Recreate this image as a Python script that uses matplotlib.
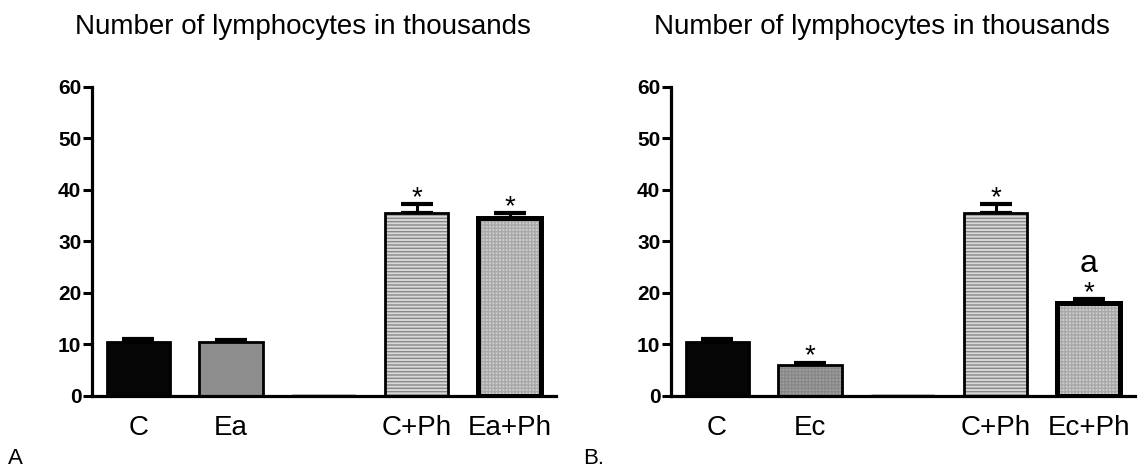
import matplotlib.pyplot as plt
import matplotlib.transforms as mtransforms
import numpy as np

plt.rcParams['font.family'] = ['Liberation Sans', 'DejaVu Sans']
plt.rcParams['hatch.linewidth'] = 1.0

# data
labels_a = ['C', 'Ea', '', 'C+Ph', 'Ea+Ph']
means_a = [10.5, 10.4, 0, 35.4, 34.5]
tops_a = [11.0, 10.9, 0, 37.2, 35.5]
stars_a = ['', '', '', '*', '*']

labels_b = ['C', 'Ec', '', 'C+Ph', 'Ec+Ph']
means_b = [10.5, 6.0, 0, 35.4, 18.0]
tops_b = [11.0, 6.4, 0, 37.2, 18.8]
stars_b = ['', '*', '', '*', '*']
extra_b = ['', '', '', '', 'a']

yticks = [0, 10, 20, 30, 40, 50, 60]
title = 'Number of lymphocytes in thousands'

# styles per bar (fill, hatch, hatch colour, edge width)
styles = [
    ('#050505', None, None, 2.0),
    ('#8e8e8e', None, None, 2.0),
    ('white', None, None, 2.5),
    ('#d8d8d8', '-----', '#888888', 2.0),
    ('#cfcfcf', '+++++', '#a8a8a8', 3.6),
]
styles_b = list(styles)
styles_b[1] = ('#a0a0a0', '+++++', '#888888', 2.0)


def draw(ax, fig, labels, means, tops, stars, stys, extra=None):
    x = np.arange(len(labels))
    w = 0.68
    for i in range(len(labels)):
        fc, hatch, hc, lw = stys[i]
        ax.bar(x[i], means[i], w, color=fc, hatch=hatch, edgecolor=hc if hc else fc,
               linewidth=0, zorder=2)
        ax.bar(x[i], means[i], w, fill=False, edgecolor='black', linewidth=lw, zorder=3)
        if means[i] > 0:
            err = tops[i] - means[i]
            ax.errorbar(x[i], means[i], yerr=[[0], [err]], fmt='none', ecolor='black',
                        elinewidth=2.2, capsize=11.5, capthick=3, zorder=1)
        if stars[i]:
            ax.text(x[i], tops[i] + 3.7, stars[i], ha='center', va='top', fontsize=20)
        if extra and extra[i]:
            ax.text(x[i], tops[i] + 3.8, extra[i], ha='center', va='bottom', fontsize=23)
    ax.set_xlim(-0.5, 4.5)
    ax.set_ylim(0, 60)
    ax.set_yticks(yticks)
    ax.set_xticks(x)
    ax.set_xticklabels(labels, fontsize=20)
    shift = mtransforms.ScaledTranslation(0, -0.04, fig.dpi_scale_trans)
    for t in ax.get_yticklabels():
        t.set_fontweight('bold')
        t.set_fontsize(15)
        t.set_transform(t.get_transform() + shift)
    ax.tick_params(axis='x', length=0, pad=14)
    ax.tick_params(axis='y', length=6.5, width=2.2, pad=1)
    for s in ['top', 'right']:
        ax.spines[s].set_visible(False)
    for s in ['left', 'bottom']:
        ax.spines[s].set_linewidth(2.3)
    ax.set_title(title, fontsize=20, pad=38, x=0.455)


fig = plt.figure(figsize=(11.41, 4.72), dpi=100)
ax1 = fig.add_axes([0.0804, 0.1617, 0.4069, 0.6547])
ax2 = fig.add_axes([0.5878, 0.1617, 0.4069, 0.6547])

draw(ax1, fig, labels_a, means_a, tops_a, stars_a, styles)
draw(ax2, fig, labels_b, means_b, tops_b, stars_b, styles_b, extra_b)

fig.text(8 / 1141, 1 - 458 / 472, 'A', fontsize=16, va='center')
fig.text(583 / 1141, 1 - 458 / 472, 'B.', fontsize=16, va='center')

plt.savefig('out.png', dpi=100)
